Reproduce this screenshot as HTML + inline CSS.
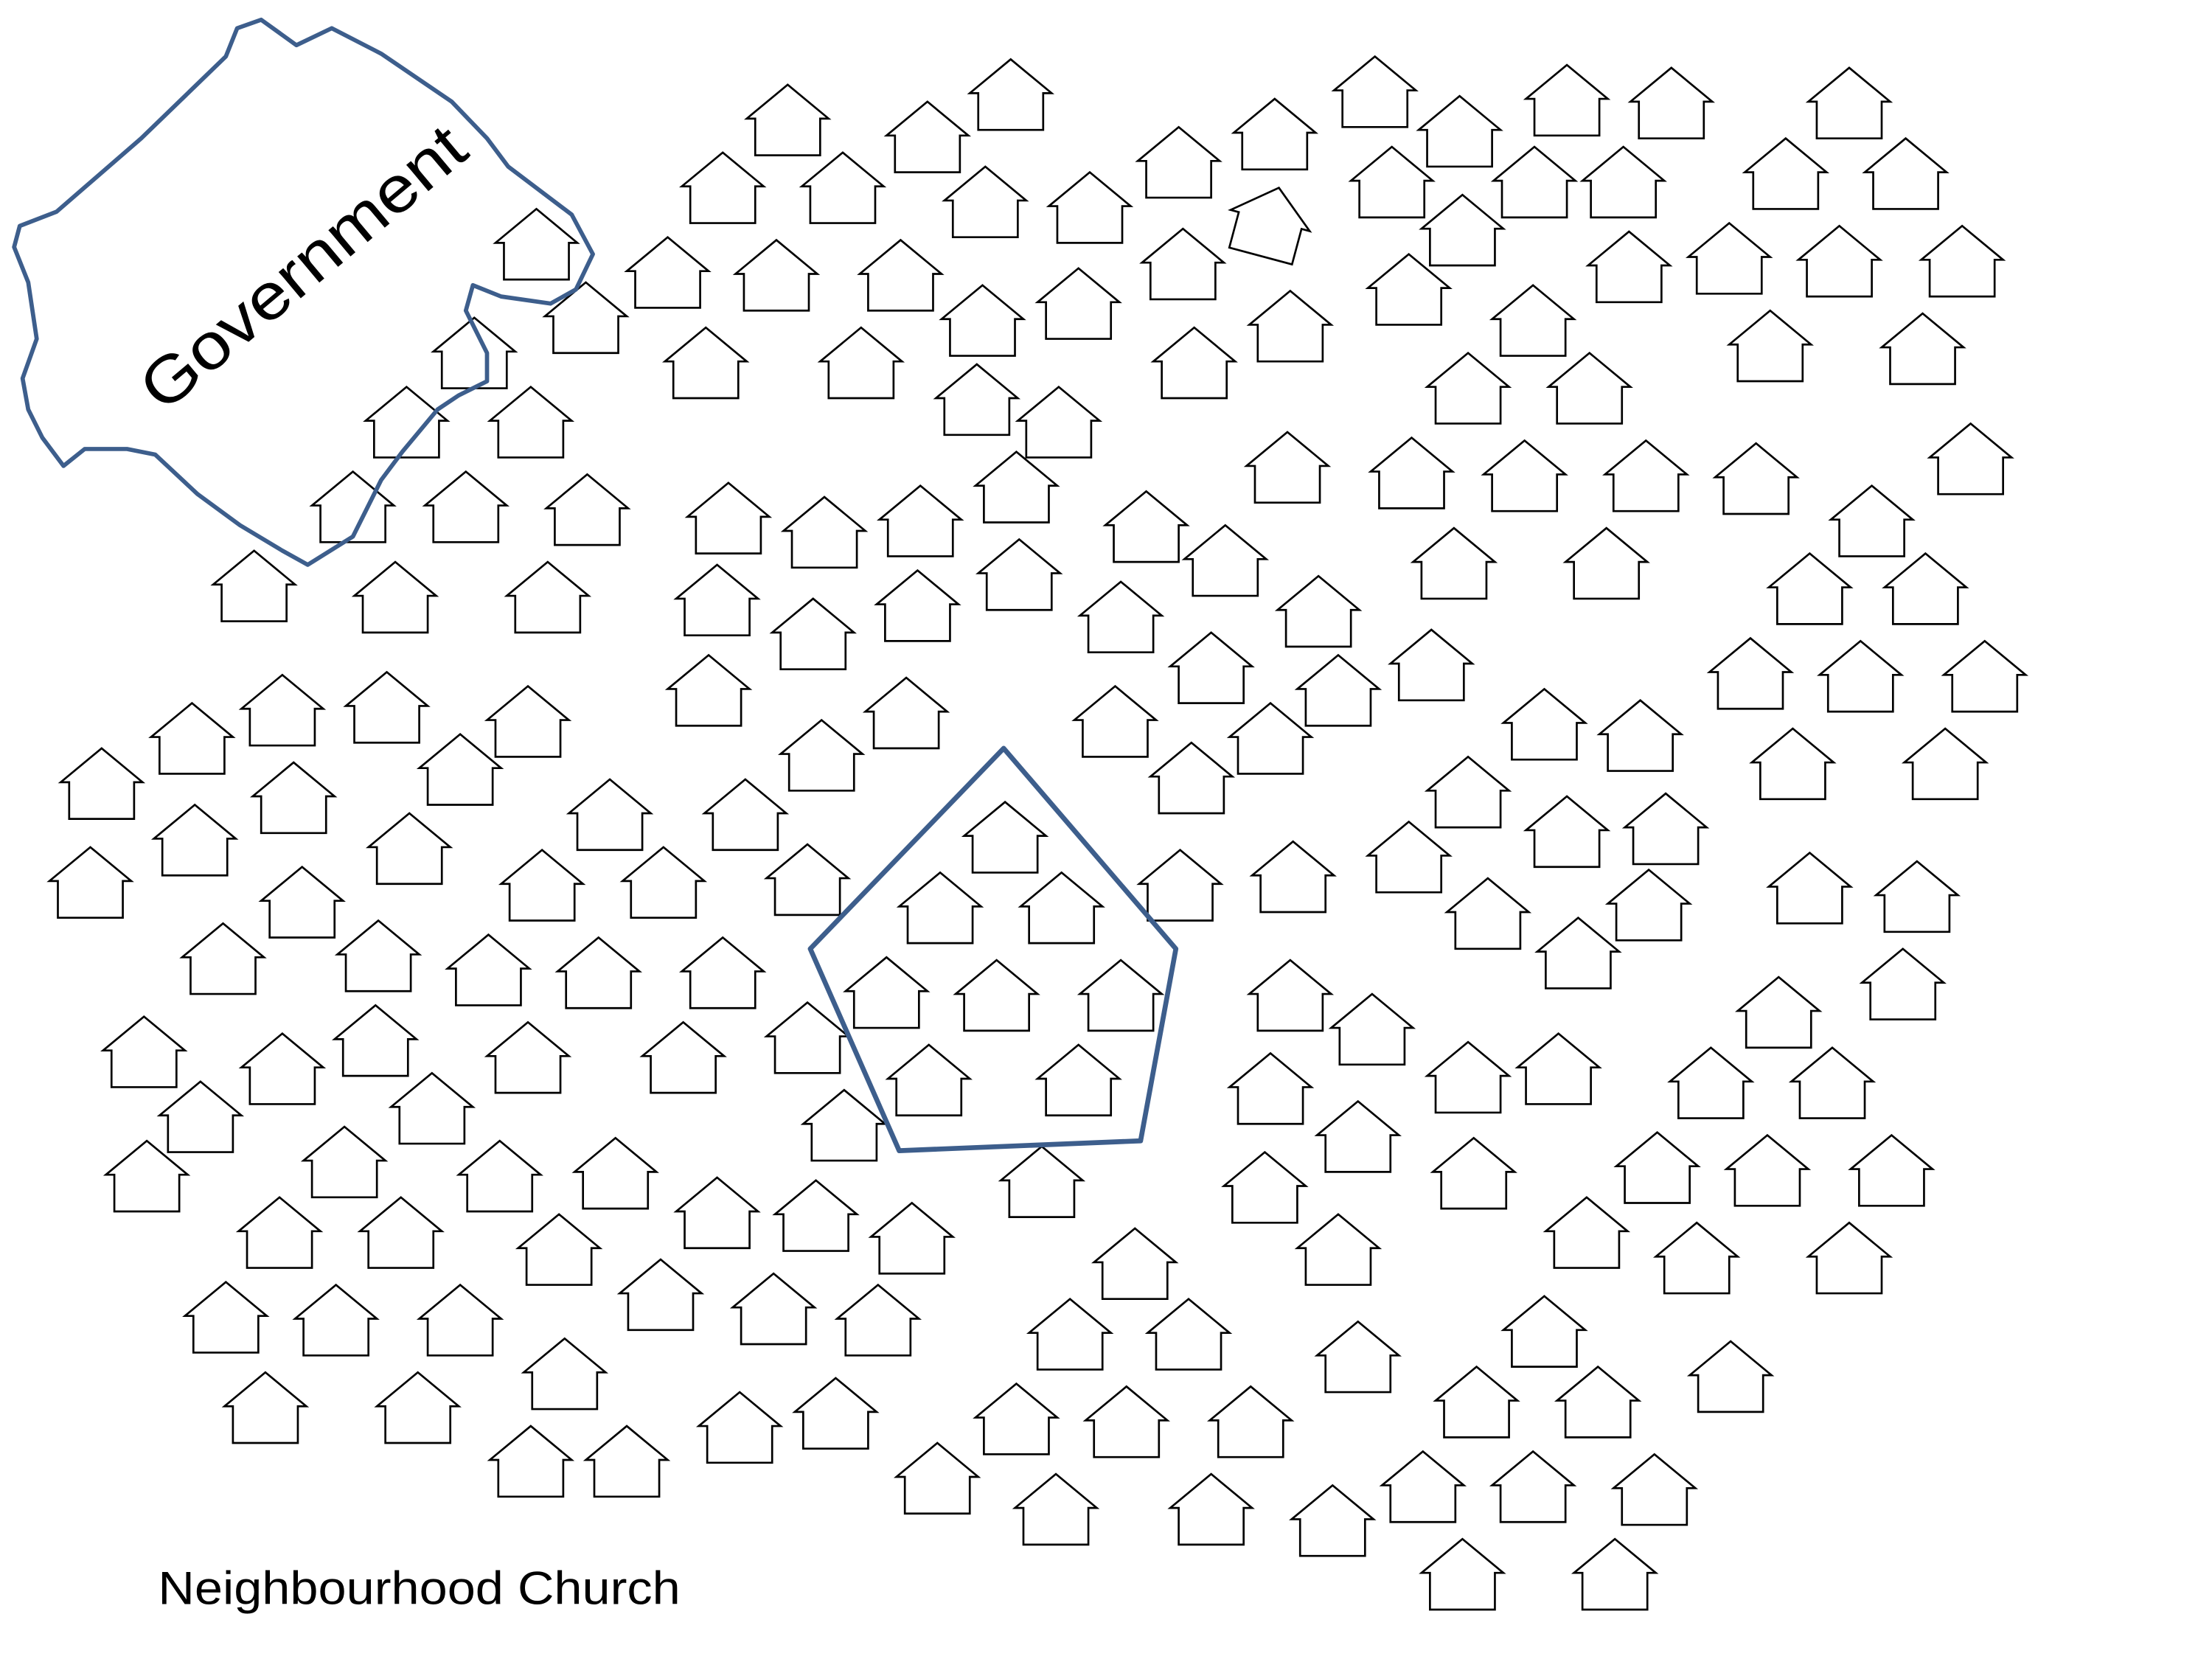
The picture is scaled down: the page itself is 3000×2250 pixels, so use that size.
<!DOCTYPE html>
<html><head><meta charset="utf-8"><style>
html,body{margin:0;padding:0;background:#fff;}
svg{display:block;}
</style></head><body>
<svg xmlns="http://www.w3.org/2000/svg" width="3000" height="2250" viewBox="0 0 1567 1175" preserveAspectRatio="none">
<defs>
<path id="h" d="M-29,24 L0,0 L29,24 L23,24 L23,50 L-23,50 L-23,24 Z" fill="#fff" stroke="#000" stroke-width="1.4" stroke-linejoin="miter"/>
</defs>
<rect width="1567" height="1175" fill="#fff"/>
<g id="houses"></g>
<path d="M14,160 L40,150 L100,98 L160,40 L168,20 L185,14 L210,32 L235,20 L270,38 L320,72 L345,98 L360,118 L405,152 L420,180 L408,205 L390,215 L355,210 L335,202 L330,220 L345,250 L345,270 L325,280 L310,290 L285,320 L270,340 L250,380 L218,400 L200,390 L170,372 L140,350 L110,322 L90,318 L60,318 L45,330 L30,310 L20,290 L16,268 L26,240 L20,200 L10,175 Z" fill="none" stroke="#3d5e8c" stroke-width="3" stroke-linejoin="round"/>
<text x="215" y="205" font-family="Liberation Sans, sans-serif" font-size="46" text-anchor="middle" textLength="285" lengthAdjust="spacingAndGlyphs" transform="rotate(-40 215 190)">Government</text>
<polygon points="711,530 833,672 808,808 637,815 574,672" fill="none" stroke="#3d5e8c" stroke-width="3.5" stroke-linejoin="round"/>
<text x="112" y="1136" font-family="Liberation Sans, sans-serif" font-size="33" textLength="370" lengthAdjust="spacingAndGlyphs">Neighbourhood Church</text>
</svg>
<script>
var P=[[716,42],[558,60],[657,72],[974,40],[1110,46],[1184,48],[1310,48],[1034,68],[903,70],[835,90],[512,108],[597,108],[698,118],[772,122],[986,104],[1087,104],[1150,104],[1265,98],[1350,98],[380,148],[1036,138],[473,168],[550,170],[638,170],[838,162],[1154,164],[1225,158],[1303,160],[1390,160],[696,202],[764,190],[998,180],[1086,202],[415,200],[336,225],[500,232],[610,232],[846,232],[914,206],[1254,220],[1362,222],[1040,250],[1126,250],[692,258],[750,274],[288,274],[376,274],[912,306],[1000,310],[1080,312],[1166,312],[1244,314],[1396,300],[720,320],[250,334],[330,334],[416,336],[516,342],[584,352],[652,344],[812,348],[1326,344],[868,372],[1030,374],[1138,374],[180,390],[280,398],[388,398],[508,400],[722,382],[650,404],[576,424],[1282,392],[1364,392],[794,412],[934,408],[858,448],[1014,446],[1240,452],[1318,454],[1406,454],[502,464],[642,480],[948,464],[790,486],[1094,488],[1162,496],[900,498],[1270,516],[1378,516],[136,498],[200,478],[274,476],[374,486],[72,530],[326,520],[582,510],[844,526],[1040,536],[208,540],[432,552],[528,552],[1110,564],[1180,562],[64,600],[138,570],[290,576],[384,602],[470,600],[572,598],[836,602],[916,596],[998,582],[1054,622],[1168,616],[1282,604],[1358,610],[214,614],[712,568],[666,618],[752,618],[628,678],[706,680],[794,680],[658,740],[764,740],[158,654],[268,652],[346,662],[424,664],[512,664],[1118,650],[914,680],[972,704],[1260,692],[1348,672],[102,720],[200,732],[266,712],[374,724],[484,724],[572,710],[1040,738],[1104,732],[1212,742],[1298,742],[900,746],[142,766],[306,760],[598,772],[962,780],[104,808],[244,798],[354,808],[436,806],[508,834],[578,836],[646,852],[738,812],[896,816],[1044,806],[1174,802],[1252,804],[1340,804],[198,848],[284,848],[396,860],[468,892],[804,870],[948,860],[1124,848],[1202,866],[1310,866],[160,908],[238,910],[326,910],[548,902],[622,910],[758,920],[842,920],[1094,918],[962,936],[400,948],[188,972],[296,972],[524,986],[592,976],[720,980],[798,982],[886,982],[1046,968],[1132,968],[1226,950],[376,1010],[444,1010],[664,1022],[748,1044],[858,1044],[944,1052],[1008,1028],[1086,1028],[1172,1030],[1036,1090],[1144,1090]];
var g=document.getElementById('houses'),s='';
P.forEach(function(p){s+='<use href="#h" x="'+p[0]+'" y="'+p[1]+'"/>';});
s+='<use href="#h" transform="translate(906,133) rotate(15)"/>';
g.innerHTML=s;
</script>
</body></html>
